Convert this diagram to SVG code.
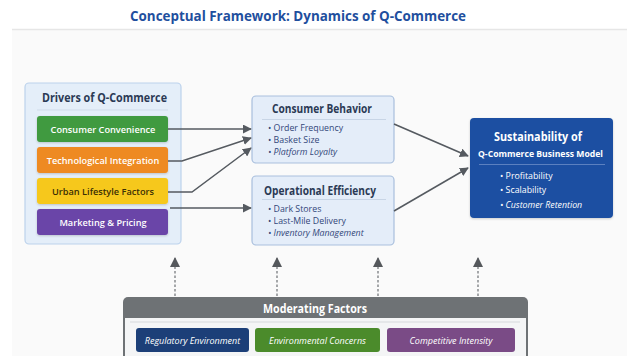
<svg xmlns="http://www.w3.org/2000/svg" width="627" height="356" viewBox="0 0 627 356">
  <defs>
    <marker id="arr" viewBox="0 0 10 10" refX="9" refY="5" markerWidth="9" markerHeight="9" markerUnits="userSpaceOnUse" orient="auto">
      <path d="M0,0 L10,5 L0,10 z" fill="#555a60"/>
    </marker>
    <marker id="arrUp" viewBox="0 0 10 10" refX="9" refY="5" markerWidth="10" markerHeight="10" markerUnits="userSpaceOnUse" orient="auto">
      <path d="M0,0 L10,5 L0,10 z" fill="#55585c"/>
    </marker>
    <filter id="soft" x="-10%" y="-10%" width="120%" height="130%">
      <feDropShadow dx="0" dy="1" stdDeviation="1" flood-color="#000" flood-opacity="0.18"/>
    </filter>
  </defs>
  <style>
    text { font-family: "Open Sans", "Liberation Sans", sans-serif; }
    .title { font-size: 14px; font-weight: 700; fill: #1f4f9e; }
    .head { font-size: 11.5px; font-weight: 700; fill: #2b3a55; }
    .drv { font-size: 9.2px; font-weight: 600; fill: #ffffff; }
    .item { font-size: 8.8px; fill: #33477a; }
    .it { font-style: italic; }
    .wh { fill: #ffffff; }
    .mod { font-size: 9px; font-style: italic; fill: #ffffff; }
    .conn { fill: none; stroke: #555a60; stroke-width: 1.5; }
    .dash { fill: none; stroke: #6d7074; stroke-width: 1.2; stroke-dasharray: 2.5 2; }
  </style>

  <!-- page -->
  <rect x="0" y="0" width="627" height="356" fill="#ffffff"/>
  <rect x="12" y="30" width="615" height="326" fill="#fafafa"/>
  <line x1="12" y1="29.5" x2="627" y2="29.5" stroke="#e6e6e6" stroke-width="1.5"/>
  <text class="title" x="298" y="21" text-anchor="middle" textLength="336" lengthAdjust="spacingAndGlyphs">Conceptual Framework: Dynamics of Q-Commerce</text>

  <!-- drivers -->
  <g id="drivers">
    <rect x="25" y="83" width="156" height="161" rx="4" fill="#e4eef9" stroke="#bcd2ec" stroke-width="1.2"/>
    <text class="head" x="104.5" y="102" text-anchor="middle" textLength="125" lengthAdjust="spacingAndGlyphs">Drivers of Q-Commerce</text>
    <line x1="37" y1="110" x2="168" y2="110" stroke="#cfdbe9" stroke-width="1"/>
  </g>
  <g id="consumer-convenience">
    <rect x="37" y="116" width="131" height="26" rx="3" fill="#3f9a3f" filter="url(#soft)"/>
    <text class="drv" x="103" y="132.5" text-anchor="middle">Consumer Convenience</text>
  </g>
  <g id="technological-integration">
    <rect x="37" y="147" width="131" height="26" rx="3" fill="#ee8a22" filter="url(#soft)"/>
    <text class="drv" x="103" y="163.5" text-anchor="middle">Technological Integration</text>
  </g>
  <g id="urban-lifestyle">
    <rect x="37" y="178" width="131" height="26" rx="3" fill="#f6c81c" filter="url(#soft)"/>
    <text class="drv" x="103" y="194.5" text-anchor="middle" style="fill:#3b2f05">Urban Lifestyle Factors</text>
  </g>
  <g id="marketing-pricing">
    <rect x="37" y="209" width="131" height="26" rx="3" fill="#6b44a8" filter="url(#soft)"/>
    <text class="drv" x="103" y="225.5" text-anchor="middle">Marketing &amp; Pricing</text>
  </g>

  <!-- mediators -->
  <g id="consumer-behavior">
    <rect x="252" y="96" width="142" height="67" rx="4" fill="#e4edf9" stroke="#a9bfdd" stroke-width="1.2"/>
    <text class="head" x="322" y="113" text-anchor="middle" textLength="100" lengthAdjust="spacingAndGlyphs">Consumer Behavior</text>
    <line x1="262" y1="119.5" x2="386" y2="119.5" stroke="#c8d5e6" stroke-width="1"/>
    <text class="item" x="268" y="131">• Order Frequency</text>
    <text class="item" x="268" y="143">• Basket Size</text>
    <text class="item it" x="268" y="155">• Platform Loyalty</text>
  </g>
  <g id="operational-efficiency">
    <rect x="252" y="176" width="142" height="69" rx="4" fill="#e4edf9" stroke="#a9bfdd" stroke-width="1.2"/>
    <text class="head" x="320" y="195" text-anchor="middle" textLength="112" lengthAdjust="spacingAndGlyphs">Operational Efficiency</text>
    <line x1="262" y1="199.5" x2="386" y2="199.5" stroke="#c8d5e6" stroke-width="1"/>
    <text class="item" x="268" y="212">• Dark Stores</text>
    <text class="item" x="268" y="224">• Last-Mile Delivery</text>
    <text class="item it" x="268" y="236">• Inventory Management</text>
  </g>

  <!-- outcome -->
  <g id="sustainability">
    <rect x="470" y="118" width="143" height="100" rx="4" fill="#1b4fa2" filter="url(#soft)"/>
    <text class="head wh" x="538" y="141" text-anchor="middle" textLength="88" lengthAdjust="spacingAndGlyphs">Sustainability of</text>
    <text class="wh" x="540.5" y="157" text-anchor="middle" font-size="9.5" font-weight="700" textLength="125" lengthAdjust="spacingAndGlyphs">Q-Commerce Business Model</text>
    <line x1="479" y1="164.5" x2="605" y2="164.5" stroke="#5b80c0" stroke-width="1"/>
    <text class="item wh" x="500" y="178.5">• Profitability</text>
    <text class="item wh" x="500" y="193">• Scalability</text>
    <text class="item wh it" x="500" y="207.5">• Customer Retention</text>
  </g>

  <!-- moderators -->
  <g id="moderating-factors">
    <rect x="123" y="297" width="405" height="70" rx="5" fill="#6e7275"/>
    <rect x="125" y="318" width="401" height="40" fill="#f4f5f6"/>
    <line x1="130" y1="322" x2="520" y2="322" stroke="#d6d9dc" stroke-width="1"/>
    <text class="head wh" x="315" y="313" text-anchor="middle" textLength="104" lengthAdjust="spacingAndGlyphs">Moderating Factors</text>
  </g>
  <g id="regulatory-environment">
    <rect x="136" y="328" width="113" height="24" rx="3" fill="#1c3f78"/>
    <text class="mod" x="192.5" y="343.5" text-anchor="middle">Regulatory Environment</text>
  </g>
  <g id="environmental-concerns">
    <rect x="255" y="328" width="125" height="24" rx="3" fill="#4b8b2b"/>
    <text class="mod" x="317.5" y="343.5" text-anchor="middle">Environmental Concerns</text>
  </g>
  <g id="competitive-intensity">
    <rect x="387" y="328" width="128" height="24" rx="3" fill="#7a4b86"/>
    <text class="mod" x="451" y="343.5" text-anchor="middle">Competitive Intensity</text>
  </g>

  <!-- connectors -->
  <g id="connectors">
    <path class="conn" d="M168,129 L251,129" marker-end="url(#arr)"/>
    <path class="conn" d="M168,161 L182,161 L251,138" marker-end="url(#arr)"/>
    <path class="conn" d="M168,192 L192,192 L251,148" marker-end="url(#arr)"/>
    <path class="conn" d="M170,208 L251,208" marker-end="url(#arr)"/>
    <path class="conn" d="M394,124 L468,156" marker-end="url(#arr)"/>
    <path class="conn" d="M394,211 L468,168" marker-end="url(#arr)"/>
    <path class="dash" d="M175,296 L175,258" marker-end="url(#arrUp)"/>
    <path class="dash" d="M277,296 L277,258" marker-end="url(#arrUp)"/>
    <path class="dash" d="M378,296 L378,258" marker-end="url(#arrUp)"/>
    <path class="dash" d="M478,296 L478,258" marker-end="url(#arrUp)"/>
  </g>
</svg>
